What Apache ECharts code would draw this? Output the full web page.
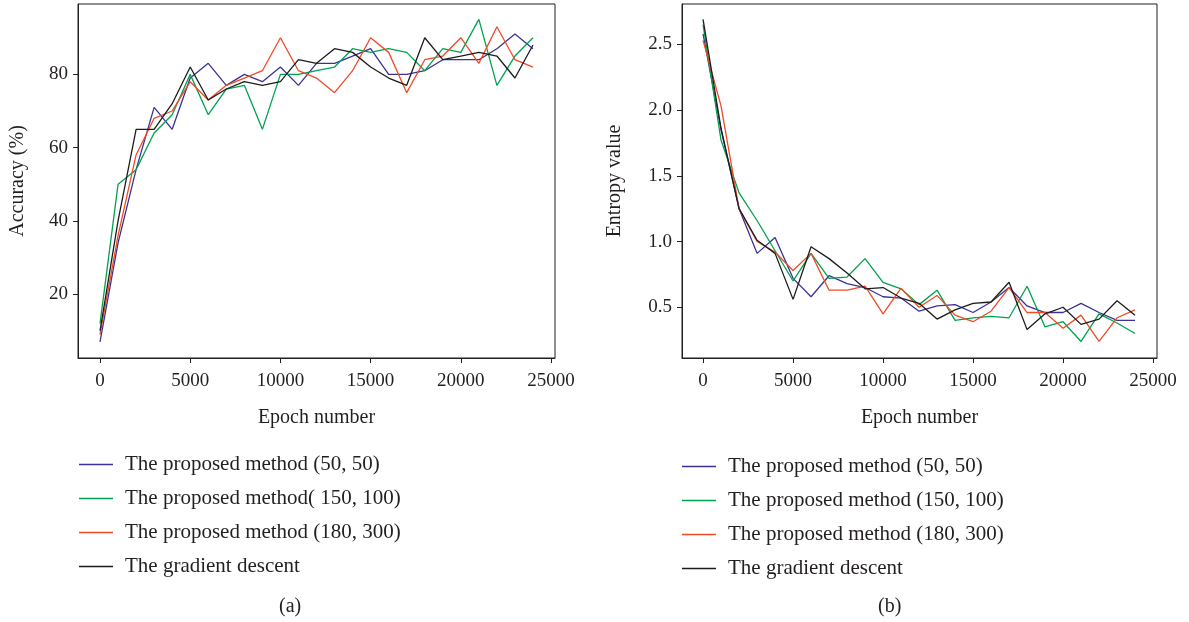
<!DOCTYPE html>
<html>
<head>
<meta charset="utf-8">
<script src="https://cdn.jsdelivr.net/npm/echarts@6/dist/echarts.min.js"></script>
<style>
  html, body { margin: 0; padding: 0; background: #fff; }
  #chart { width: 1189px; height: 622px; }
</style>
</head>
<body>
<div id="chart"></div>
<script>
// epochs
var epochs = [0, 1000, 2000, 3000, 4000, 5000, 6000, 7000, 8000, 9000, 10000, 11000, 12000,
              13000, 14000, 15000, 16000, 17000, 18000, 19000, 20000, 21000, 22000, 23000, 24000];
var xTicks = [0, 5000, 10000, 15000, 20000, 25000];

// (a) accuracy (%)
var accBlue  = [7, 34, 54, 71, 65, 79, 83, 77, 80, 78, 82, 77, 83, 83, 85, 87, 80, 80, 81, 84, 84, 84, 87, 91, 87];
var accGreen = [12, 50, 54, 64, 69, 80, 69, 76, 77, 65, 80, 80, 81, 82, 87, 86, 87, 86, 81, 87, 86, 95, 77, 85, 90];
var accRed   = [9, 36, 58, 68, 70, 78, 73, 77, 79, 81, 90, 81, 79, 75, 81, 90, 86, 75, 84, 85, 90, 83, 93, 84, 82];
var accBlack = [10, 40, 65, 65, 72, 82, 73, 76, 78, 77, 78, 84, 83, 87, 86, 82, 79, 77, 90, 84, 85, 86, 85, 79, 88];
var accTicks = [20, 40, 60, 80];

// (b) entropy value
var entBlue  = [2.58, 1.85, 1.25, 0.91, 1.03, 0.72, 0.58, 0.74, 0.68, 0.65, 0.58, 0.57, 0.47,
                0.51, 0.52, 0.46, 0.54, 0.65, 0.51, 0.46, 0.46, 0.53, 0.46, 0.40, 0.40];
var entGreen = [2.65, 1.77, 1.37, 1.16, 0.93, 0.70, 0.91, 0.72, 0.73, 0.87, 0.69, 0.64, 0.52,
                0.63, 0.40, 0.42, 0.43, 0.42, 0.66, 0.35, 0.39, 0.24, 0.45, 0.38, 0.30];
var entRed   = [2.53, 2.03, 1.25, 1.00, 0.92, 0.78, 0.91, 0.63, 0.63, 0.66, 0.45, 0.645, 0.50,
                0.59, 0.44, 0.39, 0.47, 0.65, 0.46, 0.46, 0.34, 0.44, 0.24, 0.42, 0.48];
var entBlack = [2.69, 1.86, 1.25, 1.01, 0.91, 0.56, 0.96, 0.87, 0.76, 0.64, 0.65, 0.57, 0.53,
                0.41, 0.48, 0.53, 0.54, 0.69, 0.33, 0.45, 0.50, 0.37, 0.41, 0.55, 0.44];
var entTicks = [0.5, 1.0, 1.5, 2.0, 2.5];

var namesA = ['The proposed method (50, 50)', 'The proposed method( 150, 100)',
              'The proposed method (180, 300)', 'The gradient descent'];
var namesB = ['The proposed method (50, 50)', 'The proposed method (150, 100)',
              'The proposed method (180, 300)', 'The gradient descent'];
var colors = ['#3b3294', '#00a24d', '#f24a25', '#1e1b1c'];

var FONT = 'Liberation Serif';
var INK = '#231f20';

function pairs(ys) {
    return epochs.map(function (x, i) { return [x, ys[i]]; });
}

function mkSeries(names, sets, idx) {
    return sets.map(function (ys, k) {
        return {
            name: names[k],
            type: 'line',
            xAxisIndex: idx,
            yAxisIndex: idx,
            data: pairs(ys),
            symbol: 'none',
            silent: true,
            animation: false,
            lineStyle: { color: colors[k], width: 1.3 },
            itemStyle: { color: colors[k] }
        };
    });
}

function mkX(idx, min) {
    return {
        type: 'value',
        gridIndex: idx,
        min: min,
        max: 25220,
        name: 'Epoch number',
        nameLocation: 'middle',
        nameGap: 50,
        nameTextStyle: { fontFamily: FONT, fontSize: 20, color: INK },
        axisLine: { onZero: false, lineStyle: { color: INK, width: 1 } },
        axisTick: { customValues: xTicks, length: 5, lineStyle: { color: INK } },
        axisLabel: {
            customValues: xTicks, fontFamily: FONT, fontSize: 19, color: INK, margin: 14,
            formatter: function (v) { return String(v); }
        },
        splitLine: { show: false }
    };
}

var chart = echarts.init(document.getElementById('chart'));
var option = {
    animation: false,
    backgroundColor: '#fff',
    title: [
        { text: '(a)', left: 274, top: 592, textStyle: { fontFamily: FONT, fontSize: 20, fontWeight: 'normal', color: INK } },
        { text: '(b)', left: 873, top: 592, textStyle: { fontFamily: FONT, fontSize: 20, fontWeight: 'normal', color: INK } }
    ],
    grid: [
        { left: 78, top: 4, width: 477, height: 354, show: true, borderColor: INK, borderWidth: 1 },
        { left: 682, top: 4, width: 475, height: 354, show: true, borderColor: INK, borderWidth: 1 }
    ],
    legend: [
        {
            data: namesA, orient: 'vertical', left: 74, top: 449,
            icon: 'rect', itemWidth: 34, itemHeight: 1.5, itemGap: 13,
            textStyle: { fontFamily: FONT, fontSize: 21, color: INK, lineHeight: 20, padding: [0, 0, 0, 7] }
        },
        {
            data: namesB, orient: 'vertical', left: 677, top: 451,
            icon: 'rect', itemWidth: 34, itemHeight: 1.5, itemGap: 13,
            textStyle: { fontFamily: FONT, fontSize: 21, color: INK, lineHeight: 20, padding: [0, 0, 0, 7] }
        }
    ],
    xAxis: [mkX(0, -1220), mkX(1, -1170)],
    yAxis: [
        {
            type: 'value', gridIndex: 0, min: 2.6, max: 99.2,
            name: 'Accuracy (%)', nameLocation: 'middle', nameGap: 50,
            nameTextStyle: { fontFamily: FONT, fontSize: 20, color: INK },
            axisLine: { show: true, onZero: false, lineStyle: { color: INK, width: 1 } },
            axisTick: { show: true, customValues: accTicks, length: 5, lineStyle: { color: INK } },
            axisLabel: { customValues: accTicks, fontFamily: FONT, fontSize: 19, color: INK, margin: 10 },
            splitLine: { show: false }
        },
        {
            type: 'value', gridIndex: 1, min: 0.114, max: 2.807,
            name: 'Entropy value', nameLocation: 'middle', nameGap: 57,
            nameTextStyle: { fontFamily: FONT, fontSize: 20, color: INK },
            axisLine: { show: true, onZero: false, lineStyle: { color: INK, width: 1 } },
            axisTick: { show: true, customValues: entTicks, length: 5, lineStyle: { color: INK } },
            axisLabel: {
                customValues: entTicks, fontFamily: FONT, fontSize: 19, color: INK, margin: 10,
                formatter: function (v) { return v.toFixed(1); }
            },
            splitLine: { show: false }
        }
    ],
    series: mkSeries(namesA, [accBlue, accGreen, accRed, accBlack], 0)
        .concat(mkSeries(namesB, [entBlue, entGreen, entRed, entBlack], 1))
};
chart.setOption(option);
</script>
</body>
</html>
